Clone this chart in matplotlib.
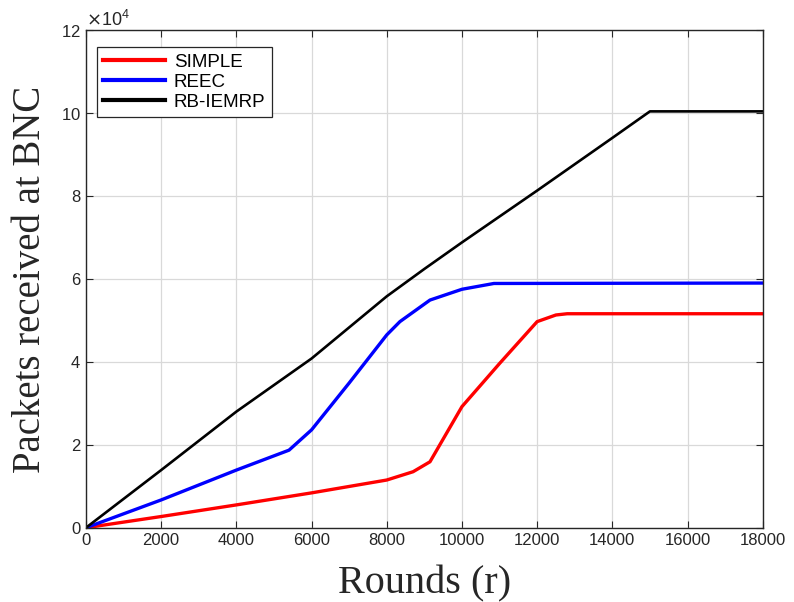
import matplotlib
matplotlib.use('Agg')

import matplotlib.pyplot as plt
import numpy as np

# values (rounds, packets)
r_simple = [0, 2000, 4000, 6000, 8000, 8700, 9150, 10000, 11000, 12000, 12500, 12800, 18000]
simple = [0, 2700, 5500, 8400, 11500, 13500, 15900, 29200, 39600, 49700, 51300, 51600, 51600]

r_reec = [0, 2000, 4000, 5400, 6000, 7000, 8000, 8350, 9150, 10000, 10850, 18000]
reec = [0, 6700, 13900, 18700, 23600, 34900, 46500, 49700, 54900, 57500, 58900, 59000]

r_rb = [0, 2000, 4000, 6000, 8000, 9000, 10000, 12000, 14000, 15000, 18000]
rb = [0, 13900, 28000, 40800, 55800, 62400, 68800, 81300, 94000, 100400, 100400]

plt.rcParams['font.family'] = ['Liberation Sans', 'DejaVu Sans']
fig = plt.figure(figsize=(7.94, 6.02), dpi=100)
ax = fig.add_axes([0.1083, 0.1234, 0.8523, 0.8266])

ax.plot(r_simple, simple, color='#ff0000', linewidth=2.4, label='SIMPLE')
ax.plot(r_reec, reec, color='#0000ff', linewidth=2.4, label='REEC')
ax.plot(r_rb, rb, color='black', linewidth=1.9, label='RB-IEMRP')

ax.set_xlim(0, 18000)
ax.set_ylim(0, 120000)
ax.set_xticks(np.arange(0, 18001, 2000))
ax.set_yticks(np.arange(0, 120001, 20000))
ax.ticklabel_format(axis='y', style='sci', scilimits=(4, 4), useMathText=True)
ax.yaxis.get_offset_text().set_fontsize(13)
ax.yaxis.get_offset_text().set_color('#262626')

ax.grid(True, color='#d9d9d9', linewidth=0.9)
ax.set_axisbelow(True)
ax.tick_params(direction='in', top=True, right=True, labelsize=12, colors='#262626',
               length=5, width=0.8)
for s in ax.spines.values():
    s.set_color('#262626')
    s.set_linewidth(1.0)

ax.set_xlabel('Rounds (r)', family='Liberation Serif', fontsize=29, color='#262626', labelpad=13)
ax.set_ylabel('Packets received at BNC', family='Liberation Serif', fontsize=28, color='#262626', labelpad=9)

leg = ax.legend(loc='upper left', fontsize=13.5, frameon=True, fancybox=False, handlelength=3.3,
                borderpad=0.35, labelspacing=0.15, handletextpad=0.45,
                bbox_to_anchor=(0.016, 0.966), borderaxespad=0)
leg.get_frame().set_edgecolor('#262626')
leg.get_frame().set_linewidth(0.9)
leg.get_frame().set_alpha(1)
for line in leg.get_lines():
    line.set_linewidth(3)

plt.savefig('out.png', dpi=100)
